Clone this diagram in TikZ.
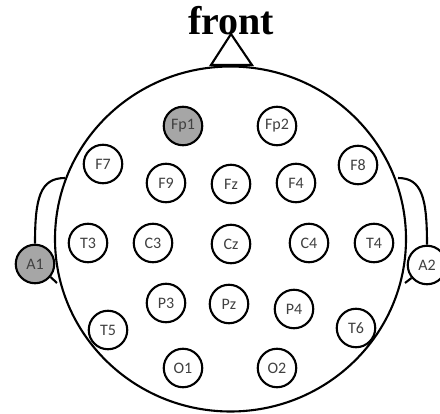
\documentclass[tikz,border=0pt]{standalone}
\usepackage{fontspec}
\setmainfont{Liberation Serif}
\newfontfamily\labelfont{Carlito}
\definecolor{capgray}{HTML}{A6A6A6}
\definecolor{textgray}{HTML}{404040}
\begin{document}
\begin{tikzpicture}[x=1pt,y=-1pt,line width=2.1pt]
    \tikzstyle{electrode}=[circle,draw=black,fill=white,minimum size=38.5pt,inner sep=0pt,
        font=\labelfont\fontsize{16}{16}\selectfont,text=textgray]
    \tikzstyle{ref}=[electrode,fill=capgray]
    \useasboundingbox (0,0) rectangle (440,414);

    % head and nose
    \draw (230.5,239) ellipse (175.5pt and 172.5pt);
    \node[font=\fontsize{40}{40}\selectfont\bfseries,anchor=base,inner sep=0pt] (front) at (231,35) {front};
    \draw[line join=miter] (211,65) -- (231,34) -- (252,65) -- cycle;

    % ear contacts
    \node[ref] (A1) at (35,264) {A1};
    \node[electrode] (A2) at (427,265) {A2};

    \coordinate (earL-top) at (65,178);
    \coordinate (earL-bot) at (57,283);
    \coordinate (earR-top) at (398,178);
    \coordinate (earR-bot) at (405,283);
    \draw (earL-top) .. controls (40,178) and (35,198) .. (A1.north);
    \draw (A1.-40) -- (earL-bot);
    \draw (earR-top) .. controls (422,178) and (427,198) .. (A2.north);
    \draw (A2.220) -- (earR-bot);

    % scalp electrodes
    \node[ref] (E-Fp1) at (183,126) {Fp1};
    \foreach \name/\x/\y in {Fp2/277/126, F7/103/164, F9/166/183, Fz/231/184, F4/296/183, F8/358/165,
        T3/88/243, C3/153/243, Cz/231/244, C4/309/243, T4/374/243,
        P3/166/303, Pz/229/304, P4/294/309, T5/108/330, T6/356/328, O1/183/368, O2/277/368}
            \node[electrode] (E-\name) at (\x,\y) {\name};
\end{tikzpicture}
\end{document}
